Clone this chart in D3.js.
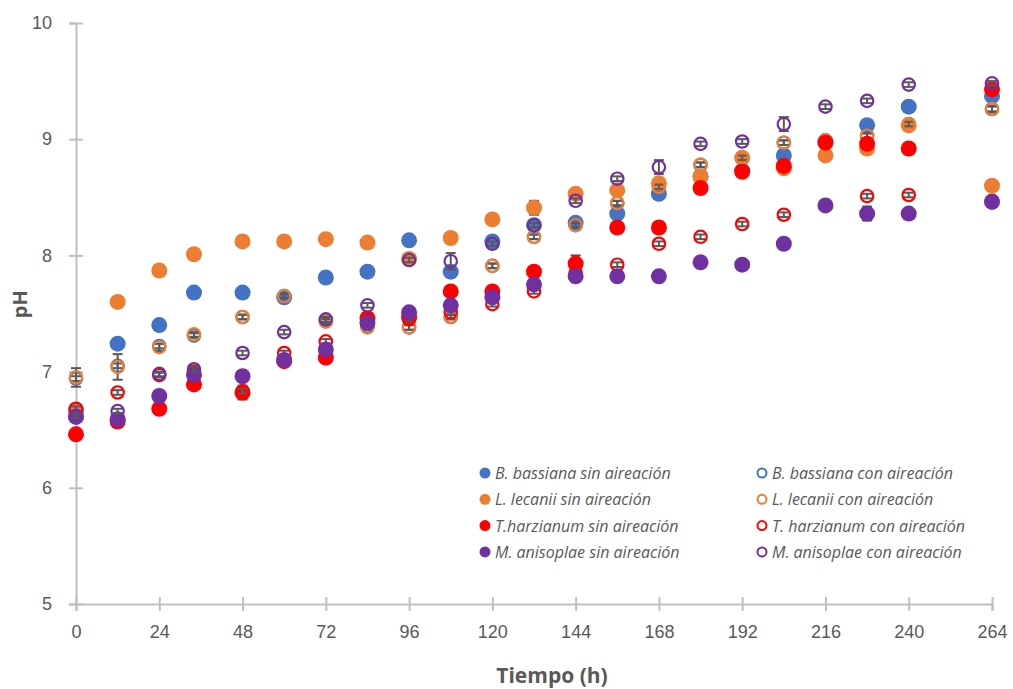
<!DOCTYPE html>
<html>
<head>
<meta charset="utf-8">
<script src="https://cdn.jsdelivr.net/npm/d3@7"></script>
<style>
  body { margin: 0; background: #fff; }
  svg { font-family: "Open Sans", "Liberation Sans", sans-serif; }
</style>
</head>
<body>
<div id="chart"></div>
<script>
// sampling times (h)
const times = [0, 12, 24, 34, 48, 60, 72, 84, 96, 108, 120, 132, 144, 156, 168, 180, 192, 204, 216, 228, 240, 264];
const xTicks = [0, 24, 48, 72, 96, 120, 144, 168, 192, 216, 240, 264];
const yTicks = [5, 6, 7, 8, 9, 10];

// pH values per series
const bbSin = [6.67, 7.24, 7.40, 7.68, 7.68, 7.64, 7.81, 7.86, 8.13, 7.86, 8.12, 8.26, 8.28, 8.36, 8.53, 8.68, 8.73, 8.86, 8.98, 9.12, 9.28, 9.37];
const bbCon = [6.94, 7.05, 7.22, 7.31, 7.47, 7.65, 7.44, 7.39, 7.38, 7.47, 7.91, 8.16, 8.26, 8.45, 8.59, 8.78, 8.84, 8.97, 8.99, 9.03, 9.13, 9.26];
const llSin = [6.65, 7.60, 7.87, 8.01, 8.12, 8.12, 8.14, 8.11, 7.97, 8.15, 8.31, 8.41, 8.53, 8.56, 8.62, 8.68, 8.84, 8.75, 8.86, 8.92, 9.12, 8.60];
const llCon = [6.95, 7.04, 7.21, 7.32, 7.47, 7.65, 7.43, 7.38, 7.38, 7.47, 7.91, 8.16, 8.26, 8.45, 8.59, 8.78, 8.84, 8.97, 8.99, 9.03, 9.13, 9.26];
const thSin = [6.46, 6.57, 6.68, 6.89, 6.82, 7.09, 7.12, 7.46, 7.47, 7.69, 7.69, 7.86, 7.93, 8.24, 8.24, 8.58, 8.72, 8.77, 8.97, 8.96, 8.92, 9.43];
const thCon = [6.68, 6.82, 6.97, 7.00, 6.83, 7.16, 7.26, 7.45, 7.45, 7.51, 7.58, 7.69, 7.85, 7.92, 8.10, 8.16, 8.27, 8.35, 8.43, 8.51, 8.52, 8.47];
const maSin = [6.61, 6.59, 6.79, 6.97, 6.96, 7.10, 7.19, 7.42, 7.51, 7.57, 7.64, 7.75, 7.82, 7.82, 7.82, 7.94, 7.92, 8.10, 8.43, 8.36, 8.36, 8.46];
const maCon = [6.62, 6.66, 6.98, 7.02, 7.16, 7.34, 7.45, 7.57, 7.96, 7.95, 8.10, 8.26, 8.47, 8.66, 8.76, 8.96, 8.98, 9.13, 9.28, 9.33, 9.47, 9.48];

// error bar half-widths per series
const bbSinErr = [0.02, 0.02, 0.02, 0.02, 0.02, 0.02, 0.02, 0.02, 0.02, 0.02, 0.02, 0.02, 0.02, 0.02, 0.02, 0.02, 0.02, 0.02, 0.02, 0.02, 0.02, 0.02];
const bbConErr = [0.02, 0.02, 0.02, 0.02, 0.02, 0.02, 0.02, 0.02, 0.02, 0.02, 0.02, 0.02, 0.02, 0.02, 0.02, 0.02, 0.02, 0.02, 0.02, 0.02, 0.02, 0.02];
const llSinErr = [0.02, 0.02, 0.02, 0.02, 0.02, 0.02, 0.02, 0.02, 0.02, 0.02, 0.02, 0.06, 0.02, 0.02, 0.02, 0.02, 0.02, 0.02, 0.02, 0.02, 0.02, 0.02];
const llConErr = [0.08, 0.11, 0.03, 0.02, 0.02, 0.02, 0.02, 0.02, 0.02, 0.02, 0.02, 0.02, 0.02, 0.02, 0.02, 0.02, 0.02, 0.02, 0.02, 0.02, 0.02, 0.03];
const thSinErr = [0.02, 0.02, 0.02, 0.02, 0.06, 0.02, 0.02, 0.02, 0.02, 0.02, 0.02, 0.02, 0.07, 0.02, 0.02, 0.02, 0.02, 0.02, 0.02, 0.02, 0.02, 0.02];
const thConErr = [0.02, 0.02, 0.02, 0.02, 0.02, 0.02, 0.02, 0.02, 0.02, 0.02, 0.02, 0.02, 0.02, 0.02, 0.02, 0.02, 0.02, 0.02, 0.02, 0.02, 0.02, 0.02];
const maSinErr = [0.02, 0.02, 0.02, 0.02, 0.02, 0.02, 0.02, 0.02, 0.02, 0.02, 0.02, 0.02, 0.02, 0.02, 0.02, 0.02, 0.02, 0.02, 0.02, 0.06, 0.02, 0.02];
const maConErr = [0.02, 0.02, 0.02, 0.02, 0.02, 0.02, 0.02, 0.02, 0.02, 0.07, 0.02, 0.02, 0.02, 0.02, 0.06, 0.02, 0.02, 0.06, 0.02, 0.02, 0.02, 0.02];

const seriesNames = [
  'B. bassiana sin aireación', 'B. bassiana con aireación',
  'L. lecanii sin aireación', 'L. lecanii con aireación',
  'T.harzianum sin aireación', 'T. harzianum con aireación',
  'M. anisoplae sin aireación', 'M. anisoplae con aireación'
];
const seriesValues = [bbSin, bbCon, llSin, llCon, thSin, thCon, maSin, maCon];
const seriesErrors = [bbSinErr, bbConErr, llSinErr, llConErr, thSinErr, thConErr, maSinErr, maConErr];
const seriesColors = ['#4472C4', '#4472C4', '#ED7D31', '#ED7D31', '#FF0000', '#FF0000', '#7030A0', '#7030A0'];
const seriesHollow = [false, true, false, true, false, true, false, true];

// set the dimensions and margins of the graph
const W = 1013, H = 689;
const margin = {top: 23, right: 21, bottom: 85, left: 76},
  width = W - margin.left - margin.right,
  height = H - margin.top - margin.bottom;

const svg = d3.select('#chart')
  .append('svg')
  .attr('width', W)
  .attr('height', H);

const g = svg.append('g')
  .attr('transform', 'translate(' + margin.left + ',' + margin.top + ')');

const x = d3.scaleLinear().domain([0, 264]).range([0, width]);
const y = d3.scaleLinear().domain([5, 10]).range([height, 0]);

const axisColor = '#BFBFBF', textColor = '#595959';

// Y axis
const yAxis = g.append('g')
  .call(d3.axisLeft(y).tickValues(yTicks).tickSize(7).tickPadding(17).tickFormat(d3.format('d')));
yAxis.selectAll('line').attr('x2', 7).attr('x1', -7);
// X axis
const xAxis = g.append('g')
  .attr('transform', 'translate(0,' + height + ')')
  .call(d3.axisBottom(x).tickValues(xTicks).tickSize(7).tickPadding(14));
xAxis.selectAll('line').attr('y1', -7).attr('y2', 7);

[xAxis, yAxis].forEach(function(a) {
  a.select('.domain').attr('stroke', axisColor).attr('stroke-width', 2);
  a.selectAll('line').attr('stroke', axisColor).attr('stroke-width', 2);
  a.selectAll('text').attr('fill', textColor).style('font-size', '18px');
});

// axis titles
svg.append('text')
  .attr('x', margin.left + width / 2 + 18)
  .attr('y', 683)
  .attr('text-anchor', 'middle')
  .attr('fill', textColor)
  .style('font-size', '21px')
  .style('font-weight', 'bold')
  .text('Tiempo (h)');

svg.append('text')
  .attr('transform', 'translate(27,' + (margin.top + y(7.58)) + ') rotate(-90)')
  .attr('text-anchor', 'middle')
  .attr('fill', textColor)
  .style('font-size', '20px')
  .style('font-weight', 'bold')
  .text('pH');

// series: error bars then markers, in legend order
const capW = 5;
seriesValues.forEach(function(vals, s) {
  const pts = times.map(function(t, i) { return {t: t, v: vals[i], e: seriesErrors[s][i]}; });
  const sg = g.append('g');

  const eb = sg.selectAll('g.err').data(pts).enter().append('g')
    .attr('stroke', '#595959').attr('stroke-width', 2);
  eb.append('line')
    .attr('x1', function(d) { return x(d.t); }).attr('x2', function(d) { return x(d.t); })
    .attr('y1', function(d) { return y(d.v - d.e); }).attr('y2', function(d) { return y(d.v + d.e); });
  eb.append('line')
    .attr('x1', function(d) { return x(d.t) - capW; }).attr('x2', function(d) { return x(d.t) + capW; })
    .attr('y1', function(d) { return y(d.v + d.e); }).attr('y2', function(d) { return y(d.v + d.e); });
  eb.append('line')
    .attr('x1', function(d) { return x(d.t) - capW; }).attr('x2', function(d) { return x(d.t) + capW; })
    .attr('y1', function(d) { return y(d.v - d.e); }).attr('y2', function(d) { return y(d.v - d.e); });

  sg.selectAll('circle').data(pts).enter().append('circle')
    .attr('cx', function(d) { return x(d.t); })
    .attr('cy', function(d) { return y(d.v); })
    .attr('r', seriesHollow[s] ? 6.2 : 8)
    .attr('fill', seriesHollow[s] ? 'none' : seriesColors[s])
    .attr('stroke', seriesHollow[s] ? seriesColors[s] : 'none')
    .attr('stroke-width', 2.2);
});

// legend, two columns
const legend = svg.append('g');
seriesNames.forEach(function(n, s) {
  const col = s % 2, row = Math.floor(s / 2);
  const lx = col === 0 ? 485 : 762, ly = 473 + row * 26.3;
  legend.append('circle')
    .attr('cx', lx).attr('cy', ly)
    .attr('r', seriesHollow[s] ? 4.5 : 5.5)
    .attr('fill', seriesHollow[s] ? 'none' : seriesColors[s])
    .attr('stroke', seriesHollow[s] ? seriesColors[s] : 'none')
    .attr('stroke-width', 2);
  legend.append('text')
    .attr('x', lx + 10).attr('y', ly + 6)
    .attr('fill', textColor)
    .style('font-size', '16px')
    .style('font-style', 'italic')
    .text(n);
});
</script>
</body>
</html>
